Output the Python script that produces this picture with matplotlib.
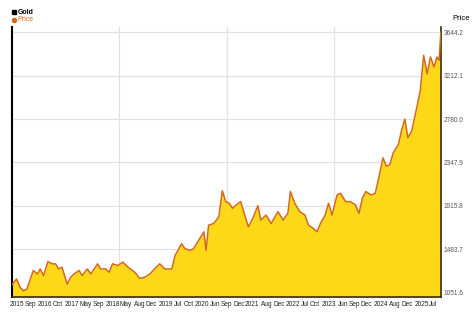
import matplotlib.pyplot as plt
import matplotlib.lines as ln

plt.rcParams['font.family'] = ['Liberation Sans', 'DejaVu Sans']

# gold price (x in fractional years)
years = [2015.70, 2015.80, 2015.88, 2015.96, 2016.04, 2016.12, 2016.19, 2016.29, 2016.35, 2016.43,
         2016.53, 2016.63, 2016.71, 2016.78, 2016.86, 2016.98, 2017.06, 2017.14, 2017.26, 2017.33,
         2017.45, 2017.53, 2017.69, 2017.76, 2017.88, 2017.96, 2018.04, 2018.16, 2018.28, 2018.40,
         2018.56, 2018.67, 2018.79, 2018.91, 2019.02, 2019.14, 2019.26, 2019.42, 2019.50, 2019.65,
         2019.73, 2019.85, 2019.93, 2020.05, 2020.17, 2020.22, 2020.28, 2020.40, 2020.52, 2020.60,
         2020.68, 2020.76, 2020.84, 2020.92, 2021.03, 2021.11, 2021.21, 2021.31, 2021.43, 2021.50,
         2021.62, 2021.74, 2021.90, 2022.02, 2022.13, 2022.19, 2022.29, 2022.41, 2022.53, 2022.61,
         2022.73, 2022.81, 2022.89, 2023.00, 2023.08, 2023.16, 2023.28, 2023.36, 2023.48, 2023.59,
         2023.71, 2023.79, 2023.87, 2023.95, 2024.07, 2024.17, 2024.25, 2024.35, 2024.43, 2024.51,
         2024.59, 2024.71, 2024.79, 2024.86, 2024.93, 2025.02, 2025.14, 2025.22, 2025.30, 2025.38,
         2025.46, 2025.54, 2025.61, 2025.66, 2025.70]
price = [1135, 1186, 1102, 1068, 1085, 1186, 1270, 1236, 1286, 1220,
         1360, 1337, 1337, 1286, 1303, 1135, 1203, 1236, 1270, 1220,
         1286, 1236, 1337, 1286, 1286, 1253, 1337, 1320, 1354, 1303,
         1253, 1192, 1203, 1236, 1286, 1337, 1286, 1286, 1420, 1538,
         1488, 1471, 1488, 1572, 1656, 1471, 1723, 1739, 1806, 2065,
         1957, 1941, 1890, 1924, 1957, 1840, 1706, 1790, 1917, 1773,
         1823, 1739, 1857, 1773, 1840, 2058, 1941, 1857, 1823, 1723,
         1689, 1656, 1739, 1823, 1941, 1823, 2024, 2041, 1957, 1957,
         1924, 1840, 1991, 2058, 2024, 2041, 2192, 2394, 2310, 2327,
         2444, 2528, 2679, 2780, 2595, 2662, 2897, 3065, 3417, 3232,
         3400, 3300, 3400, 3366, 3644]

y_ticks = [1051.6, 1483.7, 1915.8, 2347.9, 2780.0, 3212.1, 3644.2]
x_labels = ['2015', 'Sep', '2016', 'Oct', '2017', 'May', 'Sep', '2018', 'May', 'Aug', 'Dec',
            '2019', 'Jul', 'Oct', '2020', 'Jun', 'Sep', 'Dec', '2021', 'Aug', 'Dec', '2022',
            'Jul', 'Oct', '2023', 'Jun', 'Sep', 'Dec', '2024', 'Aug', 'Dec', '2025', 'Jul']
x_label_pos = [2015.80, 2016.13, 2016.47, 2016.76, 2017.08, 2017.41, 2017.71, 2018.04, 2018.35,
               2018.67, 2018.95, 2019.28, 2019.57, 2019.81, 2020.12, 2020.43, 2020.70, 2020.99,
               2021.29, 2021.65, 2021.92, 2022.26, 2022.53, 2022.77, 2023.10, 2023.41, 2023.69,
               2023.97, 2024.31, 2024.63, 2024.91, 2025.25, 2025.53]
v_grid = [2018.20, 2020.71, 2023.20]

fill_col = '#fdd816'
line_col = '#d4681f'

fig = plt.figure(figsize=(4.74, 3.16), dpi=100)
ax = fig.add_axes([0.026, 0.060, 0.904, 0.853])

ax.fill_between(years, 1005.7, price, color=fill_col, lw=0, zorder=2)
ax.plot(years, price, color=line_col, lw=1.1, zorder=3)

ax.set_xlim(2015.70, 2025.70)
ax.set_ylim(1005.7, 3694)

for v in y_ticks:
    ax.axhline(v, color='#e2e2e2', lw=0.9, zorder=1)
for v in v_grid:
    ax.axvline(v, color='#e2e2e2', lw=0.9, zorder=1)

ax.yaxis.tick_right()
ax.set_yticks(y_ticks)
ax.set_yticklabels(['%.1f' % v for v in y_ticks], color='#555555')
ax.set_xticks(x_label_pos)
ax.set_xticklabels(x_labels, color='#222222')
ax.tick_params(axis='both', length=0, labelsize=4.7)
ax.tick_params(axis='y', pad=2)
ax.tick_params(axis='x', pad=3)

ax.spines['top'].set_visible(False)
ax.spines['left'].set_color('black')
ax.spines['left'].set_linewidth(1.5)
ax.spines['right'].set_color('#3a2a10')
ax.spines['right'].set_linewidth(1.2)
ax.spines['bottom'].set_color('#3a2a10')
ax.spines['bottom'].set_linewidth(1.2)

fig.text(0.972, 0.930, 'Price', fontsize=5.5, ha='center', va='bottom', color='black')

# legend in the top left corner
fig.lines.append(ln.Line2D([0.030], [0.962], marker='s', ms=3.5, color='black', ls='',
                           transform=fig.transFigure))
fig.text(0.037, 0.962, 'Gold', fontsize=5, fontweight='bold', va='center', color='black')
fig.lines.append(ln.Line2D([0.030], [0.937], marker='o', ms=3, color=line_col, ls='',
                           transform=fig.transFigure))
fig.text(0.037, 0.937, 'Price', fontsize=5, va='center', color=line_col)

plt.savefig('out.png', dpi=100)
